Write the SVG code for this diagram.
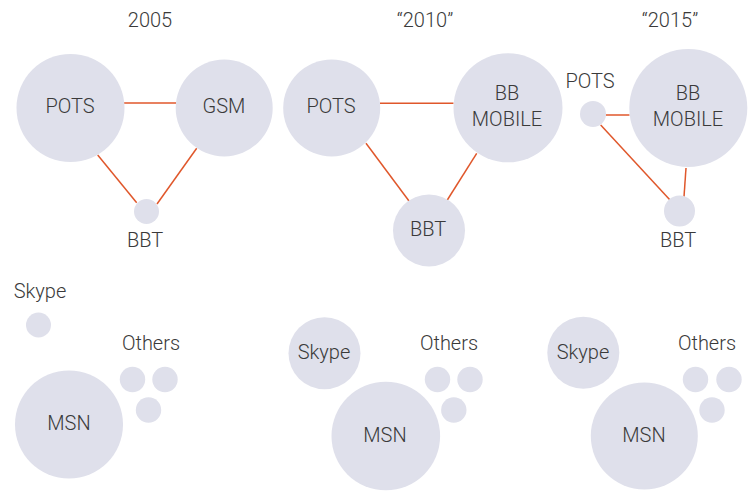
<svg xmlns="http://www.w3.org/2000/svg" width="752" height="491" viewBox="0 0 752 491">
<style>
.n{fill:#dfe0eb}
.t{font-family:Roboto,"Liberation Sans",sans-serif;font-size:20px;fill:#3a3a3a;text-anchor:middle;font-weight:300}
.c line{stroke:#e0572b;stroke-width:1.5}
</style>
<rect width="752" height="491" fill="#ffffff"/>
<text class="t" x="150" y="27">2005</text>
<text class="t" x="425" y="27">“2010”</text>
<text class="t" x="670" y="27">“2015”</text>
<g class="c" id="connectors">
<line x1="124" y1="103" x2="176" y2="103"/>
<line x1="97.7" y1="155" x2="136.7" y2="202.7"/>
<line x1="196.7" y1="148.3" x2="157" y2="204"/>
<line x1="380" y1="103.3" x2="453.5" y2="103.3"/>
<line x1="366" y1="143.3" x2="409" y2="201"/>
<line x1="476.7" y1="153.3" x2="447.3" y2="200"/>
<line x1="605.7" y1="115" x2="629.5" y2="115"/>
<line x1="600.7" y1="125" x2="670" y2="200"/>
<line x1="686" y1="168" x2="684" y2="196.7"/>
</g>
<g id="pots2005"><circle class="n" cx="70.5" cy="108" r="54"/><text class="t" x="70" y="113">POTS</text></g>
<g id="gsm2005"><circle class="n" cx="224.2" cy="108" r="48.5"/><text class="t" x="224" y="113">GSM</text></g>
<g id="bbt2005"><circle class="n" cx="146.5" cy="211.5" r="12.5"/><text class="t" x="145" y="247">BBT</text></g>
<g id="pots2010"><circle class="n" cx="331.7" cy="108" r="48.5"/><text class="t" x="331" y="113">POTS</text></g>
<g id="bbmobile2010"><circle class="n" cx="508" cy="107.8" r="54.5"/><text class="t" x="507" y="100">BB</text><text class="t" x="507" y="126">MOBILE</text></g>
<g id="bbt2010"><circle class="n" cx="429" cy="230.5" r="36"/><text class="t" x="428" y="236">BBT</text></g>
<g id="pots2015"><circle class="n" cx="593" cy="114" r="13"/><text class="t" x="590" y="88">POTS</text></g>
<g id="bbmobile2015"><circle class="n" cx="688.3" cy="108" r="59"/><text class="t" x="688" y="100">BB</text><text class="t" x="688" y="126">MOBILE</text></g>
<g id="bbt2015"><circle class="n" cx="679.5" cy="211" r="15.5"/><text class="t" x="678" y="247">BBT</text></g>
<g id="skype2005"><circle class="n" cx="38.5" cy="325" r="12.5"/><text class="t" x="40" y="298">Skype</text></g>
<g id="others2005"><text class="t" x="151" y="350">Others</text><circle class="n" cx="132.5" cy="379.5" r="12.7"/><circle class="n" cx="165" cy="379.5" r="12.7"/><circle class="n" cx="148.5" cy="410" r="12.7"/></g>
<g id="msn2005"><circle class="n" cx="69" cy="424.5" r="54"/><text class="t" x="69" y="430">MSN</text></g>
<g id="skype2010"><circle class="n" cx="324.5" cy="353.3" r="36"/><text class="t" x="324" y="359">Skype</text></g>
<g id="others2010"><text class="t" x="449" y="350">Others</text><circle class="n" cx="437.5" cy="379.5" r="12.7"/><circle class="n" cx="470" cy="379.5" r="12.7"/><circle class="n" cx="453.8" cy="410" r="12.7"/></g>
<g id="msn2010"><circle class="n" cx="385.8" cy="436" r="54.3"/><text class="t" x="385" y="441.5">MSN</text></g>
<g id="skype2015"><circle class="n" cx="583.3" cy="352.7" r="36"/><text class="t" x="583" y="359">Skype</text></g>
<g id="others2015"><text class="t" x="707" y="350">Others</text><circle class="n" cx="695.5" cy="379.5" r="12.7"/><circle class="n" cx="729" cy="379.5" r="12.7"/><circle class="n" cx="712" cy="410" r="12.7"/></g>
<g id="msn2015"><circle class="n" cx="644.3" cy="436" r="53.5"/><text class="t" x="644" y="441.5">MSN</text></g>
</svg>
